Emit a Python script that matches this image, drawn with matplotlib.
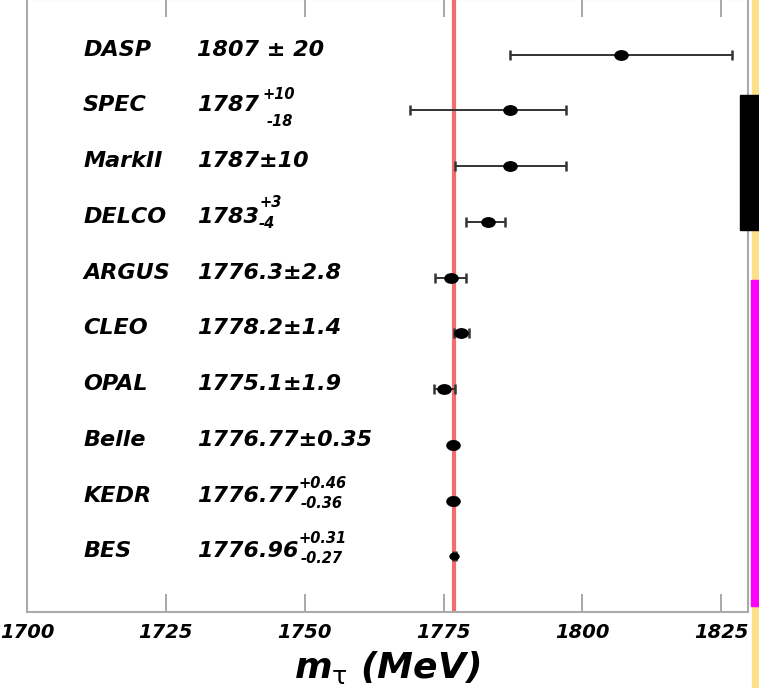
import matplotlib
matplotlib.use("Agg")
import matplotlib.pyplot as plt
from matplotlib.path import Path
from matplotlib.patches import Rectangle
import matplotlib.transforms as mtransforms
import numpy as np

plt.rcParams['font.family'] = ['DejaVu Sans']
plt.rcParams['mathtext.fontset'] = 'custom'
plt.rcParams['mathtext.rm'] = 'DejaVu Sans'
plt.rcParams['mathtext.it'] = 'DejaVu Sans:bold:italic'
plt.rcParams['mathtext.bf'] = 'DejaVu Sans:bold:italic'

experiments = ["DASP", "SPEC", "MarkII", "DELCO", "ARGUS", "CLEO", "OPAL", "Belle", "KEDR", "BES"]
values = [1807, 1787, 1787, 1783, 1776.3, 1778.2, 1775.1, 1776.77, 1776.77, 1776.96]
err_plus = [20, 10, 10, 3, 2.8, 1.4, 1.9, 0.35, 0.46, 0.31]
err_minus = [20, 18, 10, 4, 2.8, 1.4, 1.9, 0.35, 0.36, 0.27]
value_main = ["1807 ± 20", "1787", "1787±10", "1783", "1776.3±2.8", "1778.2±1.4",
              "1775.1±1.9", "1776.77±0.35", "1776.77", "1776.96"]
value_sup = ["", "+10", "", "+3", "", "", "", "", "+0.46", "+0.31"]
value_sub = ["", "-18", "", "-4", "", "", "", "", "-0.36", "-0.27"]
world_average = 1776.86
xticks = [1700, 1725, 1750, 1775, 1800, 1825]

# layout of the raised / lowered parts (pixel offsets from the main label's right end)
sup_offsets = {1: (3, 11), 3: (0, 15), 8: (0, 13), 9: (0, 13)}
sub_offsets = {1: (8, -16), 3: (0, -6), 8: (2, -7), 9: (2, -7)}

fig = plt.figure(figsize=(7.59, 6.88), dpi=100)
ax = fig.add_axes([27/759, 1 - 612/688, (748-27)/759, 612/688 + 0.001])

n = len(experiments)
ypos = np.arange(n, 0, -1)

ax.axvline(world_average, color='#f26e6e', lw=3, zorder=1)

ell = Path.unit_circle().transformed(mtransforms.Affine2D().scale(1.4, 1.0))
for i in range(n):
    ms = 9.5 if i < n - 1 else 6.5
    ax.errorbar(values[i], ypos[i], xerr=[[err_minus[i]], [err_plus[i]]], fmt='none',
                ecolor='#333333', elinewidth=1.4, capsize=3.5, capthick=1.8, zorder=2)
    ax.plot(values[i], ypos[i], marker=ell, ms=ms, color='black', ls='none', zorder=3)

tkw = dict(fontweight='bold', style='italic')
px = 0.72
for i in range(n):
    ax.text(1710.1, ypos[i] - 0.02, experiments[i], fontsize=16, va='baseline', ha='left', **tkw)
    main = ax.text(1730.6, ypos[i] - 0.02, value_main[i], fontsize=16, va='baseline', ha='left', **tkw)
    if value_sup[i]:
        dx, dy = sup_offsets[i]
        ax.annotate(value_sup[i], xy=(1, ypos[i]), xycoords=(main, 'data'),
                    xytext=(dx * px, dy * px), textcoords='offset points',
                    fontsize=10.5, va='baseline', ha='left', **tkw)
    if value_sub[i]:
        dx, dy = sub_offsets[i]
        ax.annotate(value_sub[i], xy=(1, ypos[i]), xycoords=(main, 'data'),
                    xytext=(dx * px, dy * px), textcoords='offset points',
                    fontsize=10.5, va='baseline', ha='left', **tkw)

ax.set_xlim(1700, 1829.8)
ax.set_ylim(0.0, 10.99)
ax.set_yticks([])
ax.set_xticks(xticks)
ax.set_xticklabels([str(t) for t in xticks], fontsize=14, **tkw)
ax.tick_params(axis='x', direction='in', length=13, width=1.2, color='#999999', top=True,
               pad=8)
for s in ax.spines.values():
    s.set_color('#aaaaaa')
    s.set_linewidth(1.5)

ax.set_xlabel(r"$m_{\mathrm{\tau}}$ (MeV)", fontsize=26, labelpad=5, **tkw)

# slide decorations on the right edge
fig.patches.append(Rectangle((752/759, 0), 7/759, 1, transform=fig.transFigure,
                             color='#ffe08a', zorder=5))
fig.patches.append(Rectangle((740/759, 1 - 230/688), 19/759, 135/688, transform=fig.transFigure,
                             color='black', zorder=6))
fig.patches.append(Rectangle((751/759, 1 - 606/688), 8/759, 326/688, transform=fig.transFigure,
                             color='#ff00ff', zorder=6))

fig.savefig("out.png", dpi=100)
